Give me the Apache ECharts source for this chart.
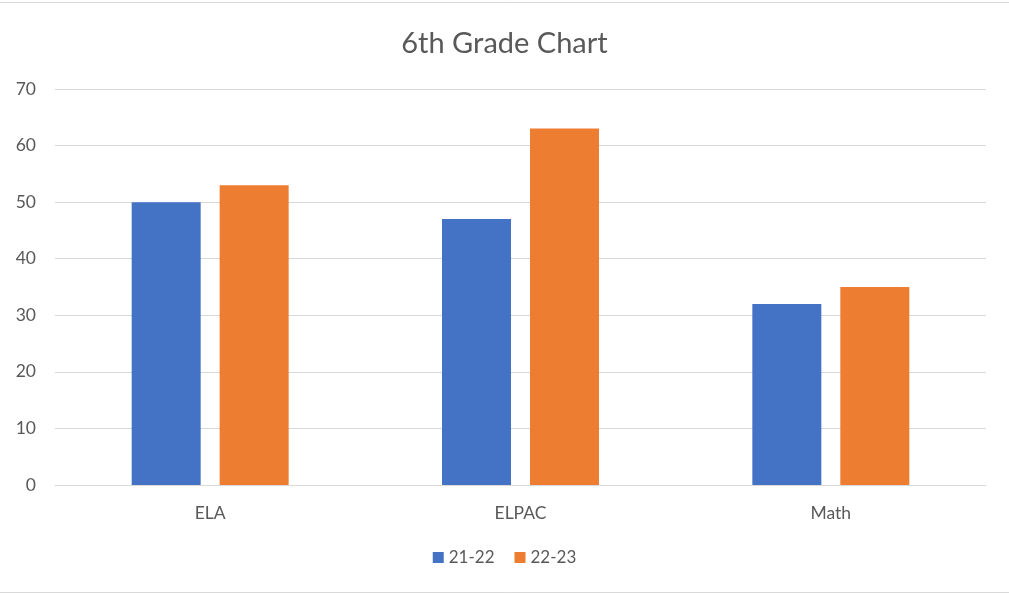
<!DOCTYPE html>
<html><head><meta charset="utf-8">
<script src="https://cdn.jsdelivr.net/npm/echarts@6/dist/echarts.min.js"></script>
<style>html,body{margin:0;padding:0;background:#fff}#c{width:1009px;height:594px}</style>
</head><body><div id="c"></div>
<script>
const categories = ['ELA', 'ELPAC', 'Math'];
const series2122 = [50, 47, 32];
const series2223 = [53, 63, 35];
const seriesNames = ['21-22', '22-23'];
const yTicks = {min: 0, max: 70, interval: 10};

const chart = echarts.init(document.getElementById('c'), null, {renderer: 'canvas'});
const font = 'Lato, "Open Sans", sans-serif';
chart.setOption({
  animation: false,
  backgroundColor: '#fff',
  title: {text: '6th Grade Chart', left: 'center', top: 24,
    textStyle: {fontFamily: font, fontSize: 29, fontWeight: 'normal', color: '#595959'}},
  legend: {bottom: 23, left: 'center', itemWidth: 11, itemHeight: 11, itemGap: 20,
    icon: 'rect',
    textStyle: {fontFamily: font, fontSize: 17, color: '#595959'}},
  grid: {left: 55, right: 23, top: 89, bottom: 109, containLabel: false},
  xAxis: {type: 'category', data: categories,
    axisLine: {lineStyle: {color: '#d9d9d9', width: 1}},
    axisTick: {show: false},
    axisLabel: {fontFamily: font, fontSize: 17.5, color: '#595959', margin: 19}},
  yAxis: {type: 'value', min: yTicks.min, max: yTicks.max, interval: yTicks.interval,
    axisLine: {show: false}, axisTick: {show: false},
    splitLine: {lineStyle: {color: '#d9d9d9', width: 1}},
    axisLabel: {fontFamily: font, fontSize: 17.5, color: '#595959', margin: 19}},
  series: [
    {name: seriesNames[0], type: 'bar', data: series2122, barWidth: 69, barGap: '27.5%',
     itemStyle: {color: '#4472c4'}},
    {name: seriesNames[1], type: 'bar', data: series2223, barWidth: 69,
     itemStyle: {color: '#ed7d31'}}
  ],
  graphic: [
    {type: 'line', shape: {x1: 0, y1: 2.5, x2: 1009, y2: 2.5}, style: {stroke: '#d9d9d9', lineWidth: 1}},
    {type: 'line', shape: {x1: 0, y1: 592.5, x2: 1009, y2: 592.5}, style: {stroke: '#d9d9d9', lineWidth: 1}}
  ]
});
</script></body></html>
